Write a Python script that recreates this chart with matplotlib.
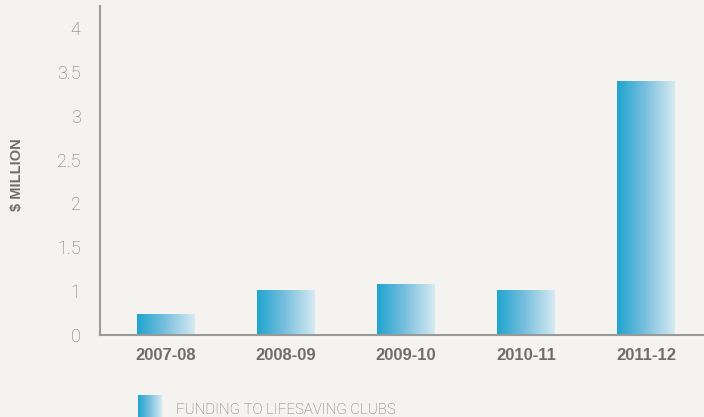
import numpy as np
import matplotlib
matplotlib.use("Agg")
import matplotlib.pyplot as plt
from matplotlib.colors import LinearSegmentedColormap

categories = ["2007-08", "2008-09", "2009-10", "2010-11", "2011-12"]
values = [0.73, 1.01, 1.08, 1.01, 3.39]
yticks = [0.5, 1, 1.5, 2, 2.5, 3, 3.5, 4]
ytick_labels = ["0", "1", "1.5", "2", "2.5", "3", "3.5", "4"]
legend_label = "FUNDING TO LIFESAVING CLUBS"
ylabel = "$ MILLION"

bg = "#f4f3ef"
cmap = LinearSegmentedColormap.from_list("bar", ["#1ea4cf", "#7cc0de", "#d6ebf3"])
grad = np.linspace(0, 1, 256).reshape(1, -1)

fig = plt.figure(figsize=(7.04, 4.17), dpi=100, facecolor=bg)
ax = fig.add_axes([100/704, 82/417, 604/704, 329/417])
ax.set_facecolor(bg)
ax.set_xlim(-0.55, 4.483)
ax.set_ylim(0.5, 4.25)
ymin = ax.get_ylim()[0]

x = np.arange(len(categories))
bars = ax.bar(x, values, width=0.483, color="none", edgecolor="none")
for b in bars:
    x0, y0 = b.get_x(), max(b.get_y(), ymin)
    w, y1 = b.get_width(), b.get_y() + b.get_height()
    ax.imshow(grad, cmap=cmap, aspect="auto", extent=[x0, x0 + w, y0, y1],
              interpolation="bicubic", zorder=2)
ax.set_xlim(-0.55, 4.483)
ax.set_ylim(0.5, 4.25)

ax.set_xticks(x)
ax.set_xticklabels(categories, fontsize=12, fontweight="bold", color="#6e6e6e",
                   family=["Liberation Sans", "DejaVu Sans"])
ax.set_yticks(yticks)
ax.set_yticklabels(ytick_labels, fontsize=13, color="#737373",
                   family=["Roboto", "DejaVu Sans"], fontweight="light")
ax.tick_params(axis="both", length=0)
ax.tick_params(axis="y", pad=14)
ax.tick_params(axis="x", pad=9)
for s in ["top", "right"]:
    ax.spines[s].set_visible(False)
for s in ["left", "bottom"]:
    ax.spines[s].set_color("#9a9a9a")
    ax.spines[s].set_linewidth(1.5)
ax.spines["bottom"].set_zorder(3)

fig.text(17/704, 1 - 175/417, ylabel, rotation=90, ha="center", va="center",
         fontsize=10.5, fontweight="bold", color="#6e6e6e",
         family=["Liberation Sans", "DejaVu Sans"])

lax = fig.add_axes([138/704, 0, 24/704, 22/417])
lax.imshow(grad, cmap=cmap, aspect="auto", interpolation="bicubic")
lax.set_axis_off()
fig.text(176/704, 1 - 403/417, legend_label, ha="left", va="top",
         fontsize=10.8, color="#707070", family=["Roboto", "DejaVu Sans"],
         fontweight="light")

fig.savefig("out.png", dpi=100, facecolor=bg)
